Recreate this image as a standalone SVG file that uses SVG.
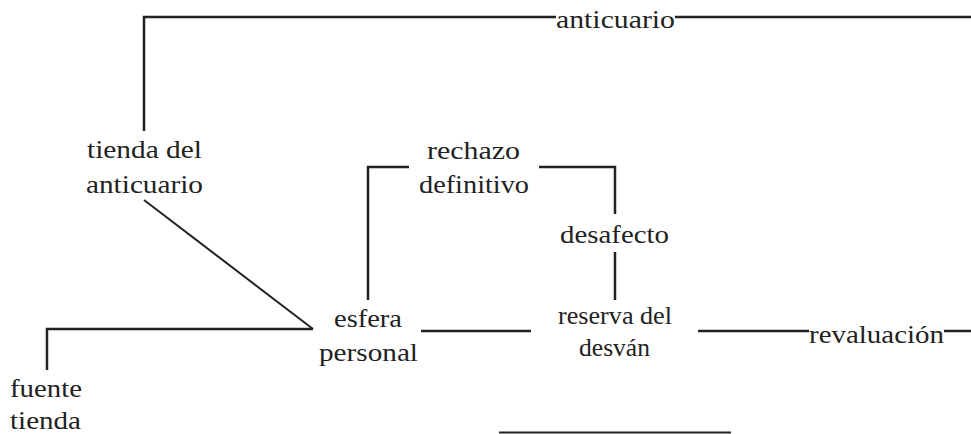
<svg xmlns="http://www.w3.org/2000/svg" width="971" height="434" viewBox="0 0 971 434">
<style>
.t{font-family:'Liberation Serif',serif;font-size:26px;fill:#222}
.c{fill:none;stroke:#222;stroke-width:2.5;stroke-linecap:butt;stroke-linejoin:miter}
.thin{stroke-width:2}
</style>
<rect width="971" height="434" fill="#fff"/>
<g id="connectors">
<polyline class="c" points="144,131 144,17 556,17"/>
<line class="c" x1="675" y1="17" x2="971" y2="17"/>
<line class="c thin" x1="144" y1="200" x2="313" y2="329"/>
<polyline class="c" points="313,329 47,329 47,370"/>
<polyline class="c" points="368,300 368,167 409,167"/>
<polyline class="c" points="539,167 615,167 615,214"/>
<line class="c" x1="615" y1="252" x2="615" y2="300"/>
<line class="c" x1="421" y1="331" x2="531" y2="331"/>
<line class="c" x1="698" y1="331" x2="809" y2="331"/>
<line class="c" x1="944" y1="331" x2="971" y2="331"/>
<line class="c thin" x1="499" y1="432.5" x2="731" y2="432.5"/>
</g>
<g class="t" font-family="Liberation Serif, serif" font-size="26">
<g id="anticuario"><text x="556" y="28" textLength="119" lengthAdjust="spacingAndGlyphs">anticuario</text></g>
<g id="tienda-anticuario">
<text x="87" y="158" textLength="115" lengthAdjust="spacingAndGlyphs">tienda del</text>
<text x="86" y="193" textLength="117" lengthAdjust="spacingAndGlyphs">anticuario</text>
</g>
<g id="rechazo-definitivo">
<text x="427" y="159" textLength="93" lengthAdjust="spacingAndGlyphs">rechazo</text>
<text x="419" y="193" textLength="110" lengthAdjust="spacingAndGlyphs">definitivo</text>
</g>
<g id="desafecto"><text x="560" y="243" textLength="109" lengthAdjust="spacingAndGlyphs">desafecto</text></g>
<g id="esfera-personal">
<text x="334" y="327" textLength="68" lengthAdjust="spacingAndGlyphs">esfera</text>
<text x="319" y="361" textLength="99" lengthAdjust="spacingAndGlyphs">personal</text>
</g>
<g id="reserva-desvan">
<text x="558" y="324" textLength="114" lengthAdjust="spacingAndGlyphs">reserva del</text>
<text x="579" y="356" textLength="71" lengthAdjust="spacingAndGlyphs">desván</text>
</g>
<g id="revaluacion"><text x="809" y="343" textLength="135" lengthAdjust="spacingAndGlyphs">revaluación</text></g>
<g id="fuente-tienda">
<text x="10" y="397" textLength="72" lengthAdjust="spacingAndGlyphs">fuente</text>
<text x="10" y="429" textLength="71" lengthAdjust="spacingAndGlyphs">tienda</text>
</g>
</g>
</svg>
